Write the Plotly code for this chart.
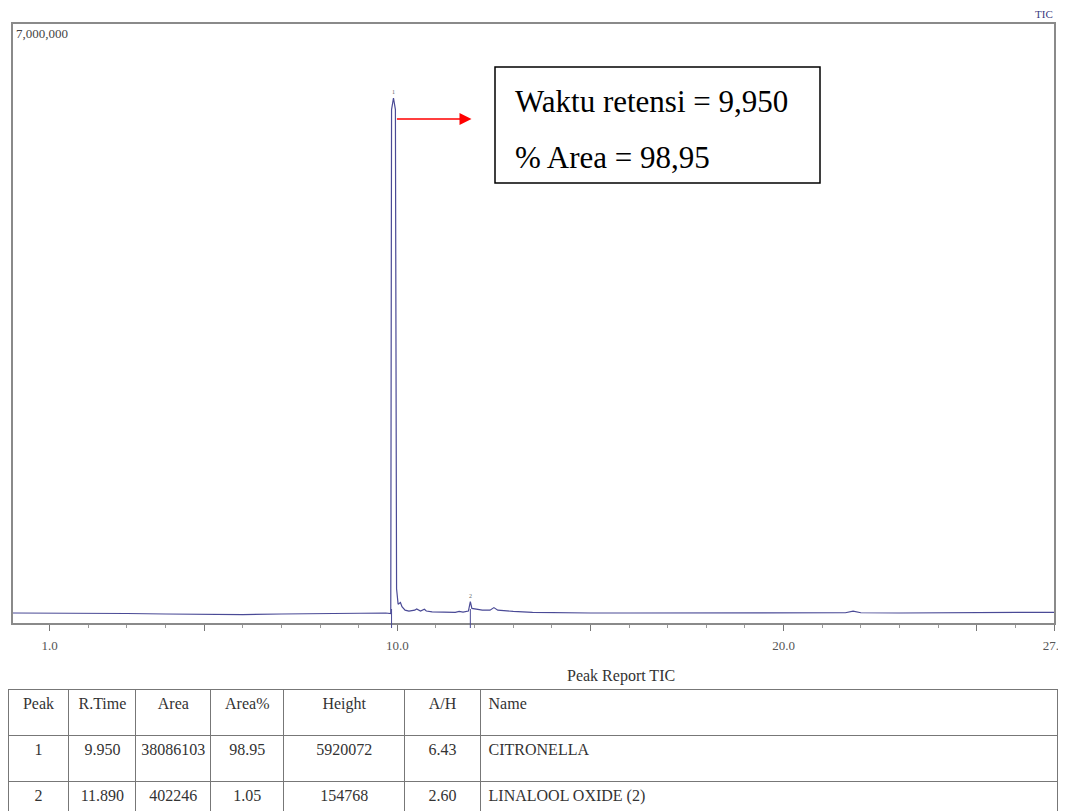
import plotly.graph_objects as go

# ---------------- data ----------------
# chromatogram trace (retention time in min, intensity)
rt_min = [0.05, 1.0, 2.0, 3.0, 4.0, 5.0, 6.0, 7.0, 8.0, 9.0, 9.7, 9.83,
          9.85, 9.90, 9.95, 9.98, 10.02, 10.08, 10.12, 10.2, 10.3, 10.45, 10.5, 10.6, 10.7, 10.75, 10.9,
          11.2, 11.5, 11.6, 11.7, 11.84, 11.89, 11.93, 12.0, 12.2, 12.4, 12.5, 12.6, 12.8,
          13.0, 13.5, 14.0, 15.0, 16.0, 17.0, 18.0, 19.0, 20.0, 21.0, 21.6, 21.8, 22.0,
          23.0, 24.0, 25.0, 26.0, 27.0]
intensity = [117000, 117000, 117000, 111000, 105000, 102000, 99000, 105000, 111000, 117000, 117000, 110000,
             6000000, 6135000, 6000000, 400000, 220000, 240000, 190000, 150000, 140000, 150000, 165000, 140000, 160000, 140000, 130000,
             128000, 125000, 135000, 128000, 140000, 250000, 170000, 165000, 150000, 150000, 180000, 150000, 140000,
             135000, 125000, 120000, 117000, 117000, 117000, 117000, 117000, 117000, 117000, 120000, 138000, 120000,
             117000, 118000, 122000, 124000, 125000]

# integrated peaks
peak_no = [1, 2]
peak_rt = [9.950, 11.890]
peak_area = [38086103, 402246]
peak_area_pct = [98.95, 1.05]
peak_height = [5920072, 154768]
peak_ah = [6.43, 2.60]
peak_name = ["CITRONELLA", "LINALOOL OXIDE (2)"]

# axis ticks
x_tickvals = [1, 5, 10, 15, 20, 25, 27]
x_ticktext = ["1.0", "", "10.0", "", "20.0", "", "27.0"]
y_max = 7000000

table_headers = ["Peak", "R.Time", "Area", "Area%", "Height", "A/H", "Name"]

# ---------------- figure ----------------
# the page body has an 8px margin: the figure starts at (8, 8) in the window
OFF = 8
W, H = 1066 - OFF, 811 - OFF
SERIF = "Liberation Serif, Times New Roman, serif"
TRACE = "#4a4a96"

fig = go.Figure()

fig.add_trace(go.Scatter(x=rt_min, y=intensity, mode="lines",
                         line=dict(color=TRACE, width=1.2), hoverinfo="x+y",
                         showlegend=False))

def px_x(p):
    return max(0.0, min(1.0, (p - OFF) / W))

def px_y(p):
    return max(0.0, min(1.0, 1 - (p - OFF) / H))

fig.update_layout(
    width=W, height=H,
    margin=dict(l=0, r=0, t=0, b=0, autoexpand=False),
    paper_bgcolor="white", plot_bgcolor="white",
    font=dict(family=SERIF, color="#444"),
    xaxis=dict(domain=[px_x(13), px_x(1054)], range=[0.05, 27.0],
               automargin=False,
               showgrid=False, zeroline=False,
               showline=True, linecolor="#8a8a8a", linewidth=2, mirror=True,
               tickvals=x_tickvals, ticktext=x_ticktext,
               ticks="outside", ticklen=6, tickwidth=1, tickcolor="#777",
               minor=dict(dtick=1, tick0=0, ticks="outside", ticklen=3, tickcolor="#999"),
               tickfont=dict(family=SERIF, size=13, color="#555"),
               ticklabelstandoff=3),
    yaxis=dict(domain=[px_y(623), px_y(24)], range=[0, y_max],
               automargin=False,
               showgrid=False, zeroline=False, showticklabels=False, ticks="",
               showline=True, linecolor="#8a8a8a", linewidth=2, mirror=True),
)

# y max label
fig.add_annotation(x=px_x(14), y=px_y(33), xref="paper", yref="paper",
                   text=f"{y_max:,}", showarrow=False, xanchor="left", yanchor="middle",
                   font=dict(family=SERIF, size=13, color="#444"))
# TIC label (top-right)
fig.add_annotation(x=px_x(1044), y=px_y(14), xref="paper", yref="paper",
                   text="TIC", showarrow=False, xanchor="center", yanchor="middle",
                   font=dict(family=SERIF, size=11, color="#3a3a80"))

# peak markers and numbers
for n, rt, h in zip(peak_no, peak_rt, peak_height):
    apex = max(v for t, v in zip(rt_min, intensity) if abs(t - rt) < 0.08)
    fig.add_annotation(x=rt - 0.05 if n == 1 else rt, y=apex, yshift=6, text=str(n), showarrow=False,
                       font=dict(family=SERIF, size=6, color="#666"))
    fig.add_shape(type="line", xref="x", yref="paper",
                  x0=rt - 0.1 if n == 1 else rt, x1=rt - 0.1 if n == 1 else rt,
                  y0=px_y(628), y1=px_y(609), line=dict(color=TRACE, width=1))

# red arrow from main peak to the info box
fig.add_annotation(x=11.92, y=5890000, ax=9.95, ay=5890000, axref="x", ayref="y",
                   xref="x", yref="y", text="", showarrow=True,
                   arrowhead=2, arrowsize=1.6, arrowwidth=1.5, arrowcolor="#ff0000")

# info box
fig.add_shape(type="rect", xref="paper", yref="paper",
              x0=px_x(495), x1=px_x(820), y0=px_y(183), y1=px_y(67),
              line=dict(color="black", width=1.5), fillcolor="white")
fig.add_annotation(x=px_x(513), y=px_y(101), xref="paper", yref="paper",
                   text=f"Waktu retensi = {peak_rt[0]:.3f}".replace(".", ","),
                   showarrow=False, xanchor="left", yanchor="middle",
                   font=dict(family=SERIF, size=31, color="black"))
fig.add_annotation(x=px_x(513), y=px_y(158), xref="paper", yref="paper",
                   text=f"% Area = {peak_area_pct[0]:.2f}".replace(".", ","),
                   showarrow=False, xanchor="left", yanchor="middle",
                   font=dict(family=SERIF, size=31, color="black"))

# table title
fig.add_annotation(x=px_x(621), y=px_y(676), xref="paper", yref="paper",
                   text="Peak Report TIC", showarrow=False,
                   xanchor="center", yanchor="middle",
                   font=dict(family=SERIF, size=16, color="#333"))

# peak report table
fig.add_trace(go.Table(
    domain=dict(x=[px_x(7), px_x(1057)], y=[0, px_y(689)]),
    columnwidth=[61, 67, 75, 73, 121, 76, 577],
    header=dict(values=table_headers, height=46,
                align=["center"] * 6 + ["left"],
                fill_color="white", line=dict(color="#777", width=1),
                font=dict(family=SERIF, size=16, color="#333")),
    cells=dict(values=[peak_no,
                       [f"{v:.3f}" for v in peak_rt],
                       peak_area,
                       [f"{v:.2f}" for v in peak_area_pct],
                       peak_height,
                       [f"{v:.2f}" for v in peak_ah],
                       peak_name],
               height=46, align=["center"] * 6 + ["left"],
               fill_color="white", line=dict(color="#777", width=1),
               font=dict(family=SERIF, size=16, color="#333")),
))

fig.write_html("out.html")
